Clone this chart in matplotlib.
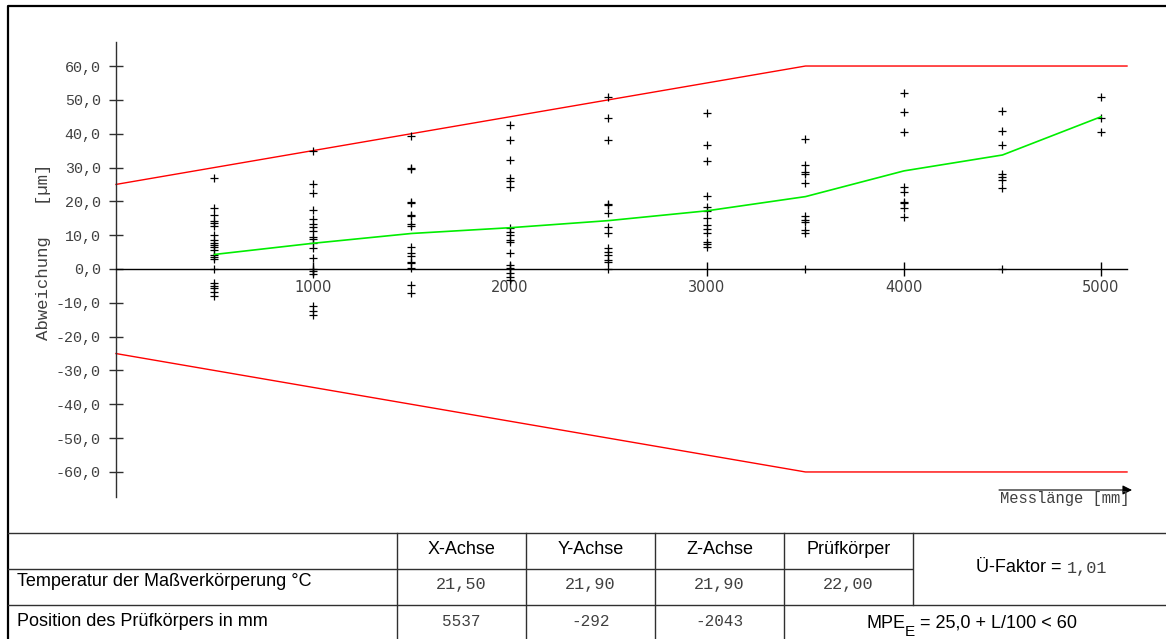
#!/usr/bin/env python3
"""Abweichung ueber Messlaenge mit MPE-Grenzen und Tabelle darunter."""
import matplotlib
matplotlib.use("Agg")
import matplotlib.pyplot as plt
from matplotlib.ticker import FuncFormatter

# Messpositionen in mm
positions = [500, 1000, 1500, 2000, 2500, 3000, 3500, 4000, 4500, 5000]

# Abweichungen in um je Messposition
pts_500 = [26.8, 17.9, 16.0, 14.2, 13.5, 12.8, 10.0, 8.6, 7.8, 7.1, 6.4,
           5.6, 4.1, 3.6, 3.0, 0.0, -4.2, -5.0, -5.7, -6.7, -7.9]
pts_1000 = [34.9, 25.0, 22.6, 17.4, 14.7, 13.2, 12.5, 11.3, 9.6, 8.8, 7.6,
            6.1, 3.2, 0.0, -0.6, -1.6, -10.8, -12.3, -13.6]
pts_1500 = [39.4, 29.9, 29.7, 19.9, 19.6, 16.0, 15.6, 13.3, 12.8, 6.6, 4.6,
            3.9, 2.2, 1.7, 0.2, -4.7, -7.2]
pts_2000 = [42.6, 38.0, 32.3, 26.8, 26.1, 24.2, 12.0, 11.0, 10.1, 8.6, 7.9,
            4.8, 1.2, 0.2, -1.3, -2.3, -3.3]
pts_2500 = [50.7, 44.5, 38.1, 19.2, 18.9, 16.5, 12.5, 10.5, 6.1, 5.1, 4.1,
            2.7, 2.2, 0.0]
pts_3000 = [46.0, 36.7, 31.9, 21.6, 18.2, 17.2, 15.2, 13.0, 11.7, 10.7, 8.1,
            7.4, 6.6]
pts_3500 = [38.3, 30.7, 28.8, 28.1, 25.5, 15.7, 14.5, 14.0, 11.5, 10.5, 0.0]
pts_4000 = [51.9, 46.5, 40.6, 24.3, 22.9, 19.9, 19.4, 17.9, 15.5]
pts_4500 = [46.7, 40.8, 36.7, 28.0, 27.1, 26.3, 24.0, 0.0]
pts_5000 = [50.7, 44.5, 40.4]

# Mittelwertlinie (gruen)
mean_line = [4.3, 7.6, 10.5, 12.2, 14.3, 17.2, 21.4, 29.0, 33.7, 45.0]

# MPE_E = 25,0 + L/100 < 60
mpe_x = [0, 3500, 5132]
mpe_y = [25.0, 60.0, 60.0]

y_ticks = [60, 50, 40, 30, 20, 10, 0, -10, -20, -30, -40, -50, -60]
x_ticks = [1000, 2000, 3000, 4000, 5000]

# Tabelle
col_headers = ["X-Achse", "Y-Achse", "Z-Achse", "Prüfkörper"]
temp_label = "Temperatur der Maßverkörperung °C"
temp_values = ["21,50", "21,90", "21,90", "22,00"]
pos_label = "Position des Prüfkörpers in mm"
pos_values = ["5537", "-292", "-2043"]
ue_faktor = "1,01"

GRAY = "#404040"
W, H = 1166, 639


def fmt_y(v, pos):
    return ("%.1f" % v).replace(".", ",")


def main():
    plt.rcParams["axes.unicode_minus"] = False

    fig = plt.figure(figsize=(W / 100, H / 100), dpi=100)

    # overlay in Pixelkoordinaten fuer Rahmen und Tabelle
    frame = fig.add_axes([0, 0, 1, 1])
    frame.set_xlim(0, W)
    frame.set_ylim(H, 0)
    frame.axis("off")

    # Diagramm
    left, right, top, bottom = 116, 1127, 42, 497
    ax = fig.add_axes([left / W, (H - bottom) / H, (right - left) / W,
                       (bottom - top) / H])
    ax.patch.set_alpha(0)
    ax.set_xlim(0, 5132)
    ax.set_ylim(-67.4, 67.1)
    for s in ["top", "right"]:
        ax.spines[s].set_visible(False)
    ax.spines["bottom"].set_position(("data", 0))
    ax.spines["left"].set_color("#303030")
    ax.spines["bottom"].set_color("black")
    ax.spines["left"].set_linewidth(1.0)
    ax.spines["bottom"].set_linewidth(1.0)

    ax.set_yticks(y_ticks)
    ax.yaxis.set_major_formatter(FuncFormatter(fmt_y))
    ax.set_xticks(x_ticks)
    ax.set_xticklabels([str(x) for x in x_ticks])
    ax.tick_params(axis="y", direction="inout", length=10, width=1,
                   pad=6, labelsize=10.8, labelcolor=GRAY, color="#303030")
    ax.tick_params(axis="x", direction="inout", length=10, width=1,
                   pad=3, labelsize=10.5, labelcolor=GRAY, color="black")
    for lbl in ax.get_yticklabels():
        lbl.set_family("Liberation Mono")
    for lbl in ax.get_xticklabels():
        lbl.set_family("DejaVu Sans")

    # MPE Grenzen
    ax.plot(mpe_x, mpe_y, color="#ff0000", lw=1.0, clip_on=False)
    ax.plot(mpe_x, [-v for v in mpe_y], color="#ff0000", lw=1.0,
            clip_on=False)

    # Messpunkte
    all_pts = [pts_500, pts_1000, pts_1500, pts_2000, pts_2500, pts_3000,
               pts_3500, pts_4000, pts_4500, pts_5000]
    for x, vals in zip(positions, all_pts):
        ax.plot([x] * len(vals), vals, linestyle="none", marker="+",
                color="black", markersize=6, markeredgewidth=0.9)

    ax.plot(positions, mean_line, color="#00ee00", lw=1.2)

    # Achsenbeschriftungen
    frame.text(44, 252, "Abweichung   [µm]", rotation=90, ha="center",
               va="center", family="Liberation Mono", fontsize=12.5,
               color=GRAY)
    frame.annotate("", xy=(1132, 490), xytext=(999, 490),
                   arrowprops=dict(arrowstyle="-|>", color="black", lw=0.8,
                                   mutation_scale=14, shrinkA=0, shrinkB=0))
    frame.text(1000, 499, "Messlänge [mm]", ha="left", va="center",
               family="Liberation Mono", fontsize=11.2, color=GRAY)

    # Rahmen
    frame.plot([8, 8, W], [H, 6, 6], color="black", lw=1.6,
               solid_capstyle="butt")
    lc = "#303030"
    frame.plot([8, W], [533, 533], color=lc, lw=1)
    frame.plot([8, 912], [569, 569], color=lc, lw=1)
    frame.plot([8, W], [605, 605], color=lc, lw=1)
    col_x = [397, 526, 655, 784, 913]
    for cx in col_x[:4]:
        frame.plot([cx, cx], [533, H], color=lc, lw=1)
    frame.plot([col_x[4], col_x[4]], [533, 605], color=lc, lw=1)

    # Tabelleninhalt
    sans = dict(family="Liberation Sans", fontsize=13, color="black")
    centers = [(col_x[i] + col_x[i + 1]) / 2 for i in range(4)]
    for cx, h in zip(centers, col_headers):
        frame.text(cx, 550, h, ha="center", va="center", **sans)
    frame.text(17, 582, temp_label, ha="left", va="center", **sans)
    for cx, v in zip(centers, temp_values):
        frame.text(cx, 585, v, ha="center", va="center",
                   family="Liberation Mono", fontsize=12.2, color=GRAY)
    frame.text(17, 622, pos_label, ha="left", va="center", **sans)
    for cx, v in zip(centers, pos_values):
        frame.text(cx, 622, v, ha="center", va="center",
                   family="Liberation Mono", fontsize=11.5, color=GRAY)

    frame.text(1062, 567, "Ü-Faktor =", ha="right", va="center", **sans)
    frame.text(1067, 568, ue_faktor, ha="left", va="center",
               family="Liberation Mono", fontsize=12.2, color=GRAY)

    # MPE_E mit tiefgestelltem E, Stueck fuer Stueck gesetzt
    renderer = fig.canvas.get_renderer()
    x0 = 866
    t = frame.text(x0, 628, "MPE", ha="left", va="baseline", **sans)
    x0 += t.get_window_extent(renderer).width
    t = frame.text(x0, 636, "E", ha="left", va="baseline",
                   family="Liberation Sans", fontsize=11, color="black")
    x0 += t.get_window_extent(renderer).width
    frame.text(x0, 628, " = 25,0 + L/100 < 60", ha="left", va="baseline",
               **sans)

    fig.savefig("out.png", dpi=100)
    plt.close(fig)


if __name__ == "__main__":
    main()
